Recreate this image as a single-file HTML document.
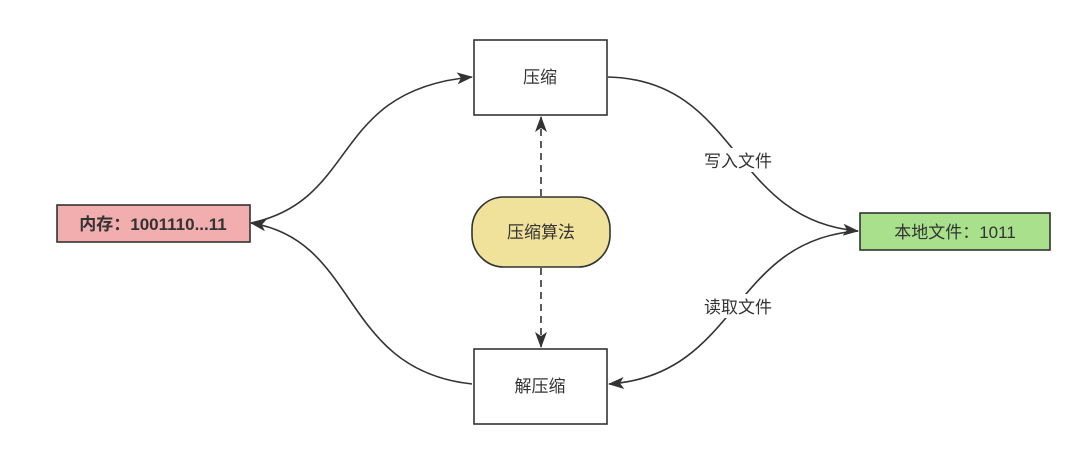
<!DOCTYPE html>
<html><head><meta charset="utf-8"><style>
html,body{margin:0;padding:0;background:#fff;}
svg{display:block;font-family:"Liberation Sans","Noto Sans CJK SC",sans-serif;}
</style></head><body>
<svg width="1080" height="467" viewBox="0 0 1080 467">
<defs>
<marker id="a" markerWidth="16" markerHeight="12" refX="15" refY="6" orient="auto" markerUnits="userSpaceOnUse">
<path d="M0,0 L16,6 L0,12 L4,6 Z" fill="#333"/>
</marker>
</defs>
<rect width="1080" height="467" fill="#fff"/>
<g fill="none" stroke="#333" stroke-width="1.6">
<path d="M251,223 C360,200 330,90 472,77" marker-end="url(#a)"/>
<path d="M472,384 C340,370 360,240 251,223" marker-end="url(#a)"/>
<path d="M608,77 C740,80 730,220 858,231" marker-end="url(#a)"/>
<path d="M858,231 C730,240 740,375 609,384" marker-end="url(#a)"/>
<path d="M541,196 L541,117" stroke-dasharray="7,5" marker-end="url(#a)"/>
<path d="M541,268 L541,347" stroke-dasharray="7,5" marker-end="url(#a)"/>
</g>
<rect x="695" y="148" width="86" height="24" fill="#fff"/>
<rect x="695" y="294" width="86" height="24" fill="#fff"/>
<text x="738" y="167" font-size="17" fill="#333" text-anchor="middle">写入文件</text>
<text x="738" y="313" font-size="17" fill="#333" text-anchor="middle">读取文件</text>
<rect x="474" y="40" width="133" height="75" fill="#fff" stroke="#333" stroke-width="1.6"/>
<text x="540" y="83" font-size="17" fill="#333" text-anchor="middle">压缩</text>
<rect x="474" y="349" width="133" height="75" fill="#fff" stroke="#333" stroke-width="1.6"/>
<text x="540" y="392" font-size="17" fill="#333" text-anchor="middle">解压缩</text>
<rect x="472" y="197" width="138" height="70" rx="32" fill="#f0e29b" stroke="#333" stroke-width="1.6"/>
<text x="541" y="238" font-size="17" fill="#333" text-anchor="middle">压缩算法</text>
<rect x="57" y="205" width="193" height="37" fill="#f2aeae" stroke="#333" stroke-width="1.6"/>
<text x="153" y="230" font-size="17" font-weight="bold" fill="#333" text-anchor="middle">内存：1001110...11</text>
<rect x="860" y="213" width="190" height="37" fill="#a8e08c" stroke="#333" stroke-width="1.6"/>
<text x="955" y="238" font-size="17" fill="#333" text-anchor="middle">本地文件：1011</text>
</svg>
</body></html>
